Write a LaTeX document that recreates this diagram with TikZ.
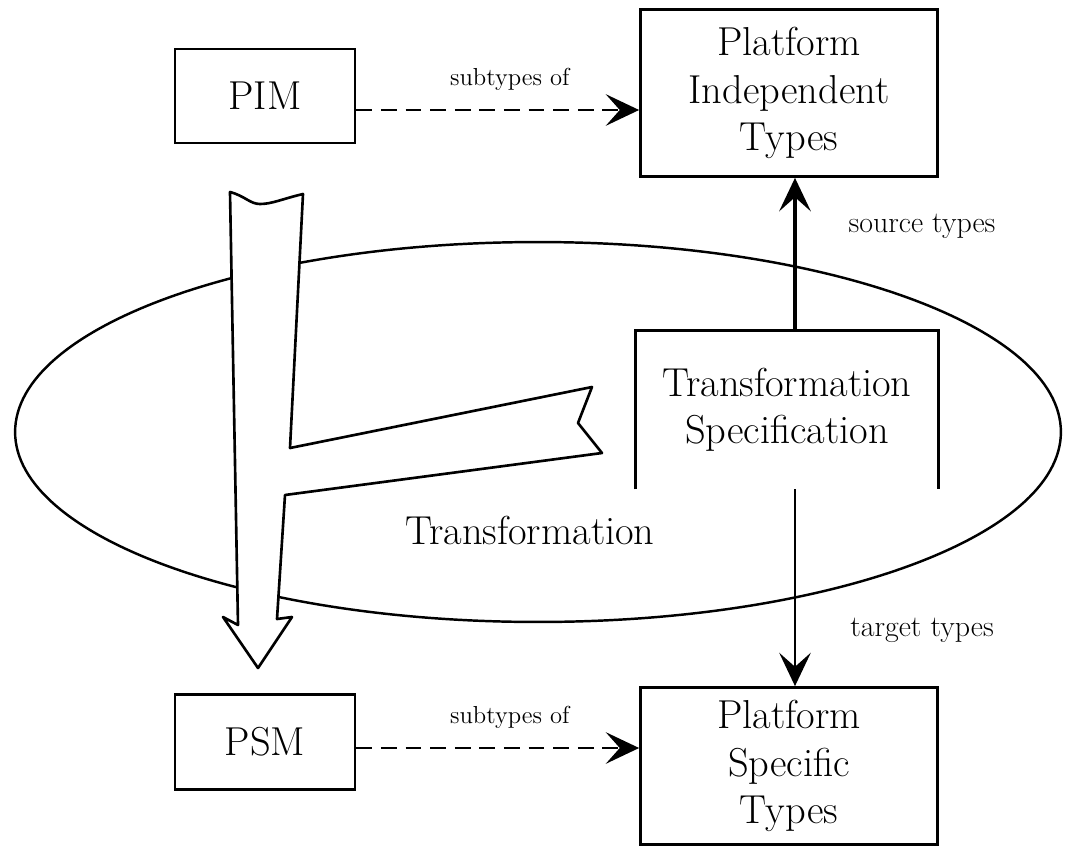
\documentclass[tikz,border=0pt]{standalone}
\usepackage{tikz}
\usetikzlibrary{arrows.meta}

\begin{document}
\begin{tikzpicture}[x=0.02cm, y=-0.02cm,
    caixa/.style={draw, line width=1.6pt, align=center, font=\fontsize{23}{27}\selectfont},
    rotulo/.style={font=\fontsize{14}{16}\selectfont},
    ponta/.style={-{Stealth[length=19pt, width=18pt, inset=8pt]}},
    subtipo/.style={ponta, line width=1.2pt, dash pattern=on 9pt off 5pt}]
        \useasboundingbox (0,0) rectangle (1066,849);

        % Elipse da transformacao
        \draw[line width=1.4pt] (538,432) ellipse [x radius=10.46cm, y radius=3.8cm];
        \node (transf) at (530,530) {\fontsize{23}{27}\selectfont Transformation};

        % Caixas
        \node[caixa, minimum width=3.6cm, minimum height=1.88cm] (pim) at (265,96) {PIM};
        \node[caixa, minimum width=5.94cm, minimum height=3.34cm] (pit) at (789,93) {Platform\\Independent\\Types};
        \node[caixa, minimum width=3.6cm, minimum height=1.9cm] (psm) at (265,742) {PSM};
        \node[caixa, minimum width=5.94cm, minimum height=3.14cm] (pst) at (789,766) {Platform\\Specific\\Types};
        \node[caixa, draw=none, minimum width=6cm, minimum height=3.12cm] (tspec) at (787,410) {Transformation\\Specification};
        \draw[line width=1.6pt] (tspec.south west) -- (tspec.north west) -- (tspec.north east) -- (tspec.south east);

        % Seta grande
        \draw[line width=1.5pt, fill=white, line join=round]
          (230,192) .. controls (245,196) and (250,204) .. (260,204)
          .. controls (272,204) and (282,199) .. (303,194)
          -- (290,448) -- (592,387) -- (578,423) -- (602,453) -- (285,495)
          -- (277,619) -- (292,617) -- (258,668) -- (223,617) -- (238,625) -- cycle;

        % Setas
        \draw[subtipo] (pim.east |- 0,110) -- (pit.west |- 0,110)
          node[rotulo, midway, above=7pt, xshift=0.24cm] (sub1) {subtypes of};
        \draw[subtipo] (psm.east |- 0,748) -- (pst.west |- 0,748)
          node[rotulo, midway, above=7pt, xshift=0.24cm] (sub2) {subtypes of};
        \draw[ponta, line width=2.2pt] ([xshift=0.12cm]pit.south |- tspec.north) -- ([xshift=0.12cm]pit.south);
        \draw[ponta, line width=1.2pt] ([xshift=0.12cm]pst.north |- tspec.south) -- ([xshift=0.12cm]pst.north);
        \node[rotulo, font=\fontsize{17}{19}\selectfont] (fonte) at (922,226) {source types};
        \node[rotulo, font=\fontsize{17}{19}\selectfont] (alvo) at (922,630) {target types};
\end{tikzpicture}
\end{document}
